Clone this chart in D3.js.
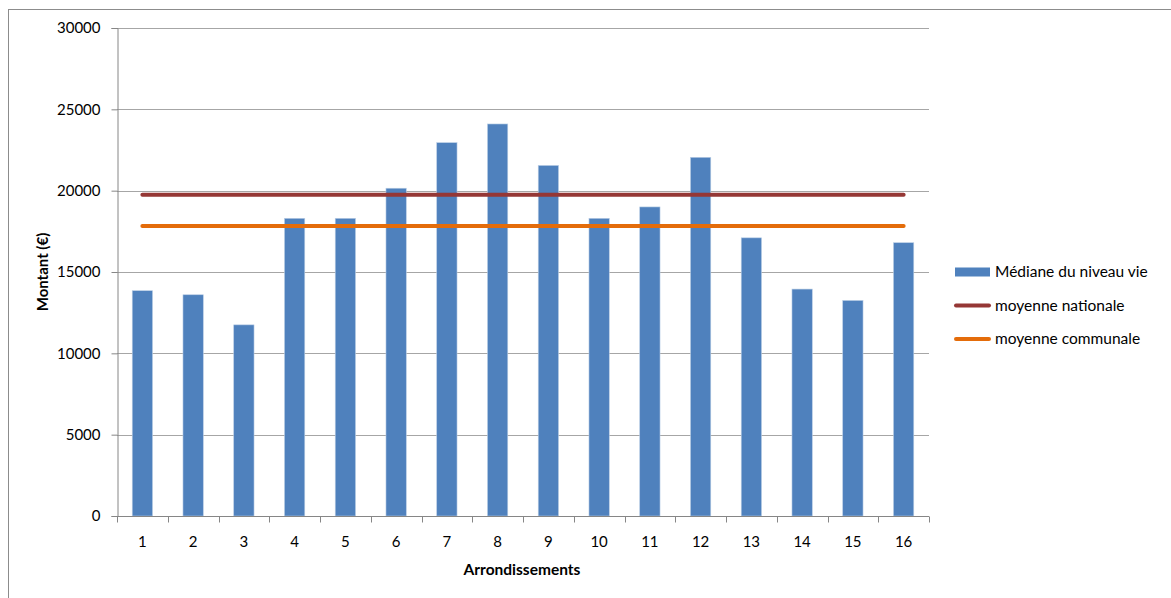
<!DOCTYPE html>
<html>
<head>
<meta charset="utf-8">
<script src="https://cdn.jsdelivr.net/npm/d3@7"></script>
<style>
  body { margin: 0; background: #fff; }
  svg { display: block; font-family: Lato, "Open Sans", sans-serif; }
</style>
</head>
<body>
<div id="graph"></div>
<script>
// arrondissements and values
var categories = ["1","2","3","4","5","6","7","8","9","10","11","12","13","14","15","16"];
var medianValues = [13850, 13600, 11750, 18300, 18300, 20150, 22950, 24100, 21550, 18300, 19000, 22050, 17100, 13950, 13250, 16800];
var nationalAvg = 19750;
var communalAvg = 17830;
var yTicks = [0, 5000, 10000, 15000, 20000, 25000, 30000];
var legendLabels = ["Médiane du niveau vie", "moyenne nationale", "moyenne communale"];

var svgWidth = 1171;
var svgHeight = 598;

var chartMargin = { top: 28, left: 117 };
var chartWidth = 929 - 117;
var chartHeight = 516 - 28;

var svg = d3.select("#graph")
  .append("svg")
  .attr("width", svgWidth)
  .attr("height", svgHeight);

// outer frame (right and bottom go past the picture)
svg.append("rect")
  .attr("x", 8.5)
  .attr("y", 9.5)
  .attr("width", svgWidth)
  .attr("height", svgHeight)
  .attr("fill", "none")
  .attr("stroke", "#8c8c8c");

var chartGroup = svg.append("g")
  .attr("transform", `translate(${chartMargin.left}, ${chartMargin.top})`);

var xCat = d3.scaleBand()
  .domain(categories)
  .range([0, chartWidth]);

var yScale = d3.scaleLinear()
  .domain([0, 30000])
  .range([chartHeight, 0]);

// gridlines
chartGroup.selectAll(".grid")
  .data(yTicks.slice(1))
  .enter()
  .append("line")
  .attr("x1", 0)
  .attr("x2", chartWidth)
  .attr("y1", d => Math.round(yScale(d)) + 0.5)
  .attr("y2", d => Math.round(yScale(d)) + 0.5)
  .attr("stroke", "#a6a6a6")
  .attr("stroke-width", 1.2);

// bars
chartGroup.selectAll(".bar")
  .data(medianValues)
  .enter()
  .append("rect")
  .attr("x", (d, i) => xCat(categories[i]) + xCat.bandwidth() * 0.3)
  .attr("y", d => yScale(d))
  .attr("width", xCat.bandwidth() * 0.4)
  .attr("height", d => chartHeight - yScale(d))
  .attr("fill", "#4f81bd")
  .attr("stroke", "#b9cde5")
  .attr("stroke-width", 0.6);

// average lines, from centre of first to centre of last category
var lineData = [
  { value: nationalAvg, color: "#953735" },
  { value: communalAvg, color: "#e46c0a" }
];
var first = categories[0], last = categories[categories.length - 1];
lineData.forEach(function(l) {
  chartGroup.append("path")
    .attr("d", d3.line()([
      [xCat(first) + xCat.bandwidth() / 2, yScale(l.value)],
      [xCat(last) + xCat.bandwidth() / 2, yScale(l.value)]
    ]))
    .attr("stroke", l.color)
    .attr("stroke-width", 4)
    .attr("stroke-linecap", "round")
    .attr("fill", "none");
});

// y axis
var yAxis = d3.axisLeft(yScale).tickValues(yTicks).tickSize(6).tickPadding(11).tickFormat(d3.format("d"));
var yG = chartGroup.append("g")
  .attr("transform", "translate(0.5,0)")
  .call(yAxis);
yG.select(".domain").attr("stroke", "#868686");
yG.selectAll(".tick line").attr("stroke", "#868686");
yG.selectAll(".tick text").attr("fill", "#000").style("font-size", "15px").style("font-family", "Lato, sans-serif");

// x axis: ticks between categories
var xG = chartGroup.append("g")
  .attr("transform", `translate(0, ${chartHeight + 0.5})`);
xG.append("line")
  .attr("x1", 0).attr("x2", chartWidth)
  .attr("stroke", "#868686");
var bounds = categories.map(c => xCat(c)).concat([chartWidth]);
xG.selectAll(".xtick")
  .data(bounds)
  .enter()
  .append("line")
  .attr("x1", d => Math.round(d) + 0.5)
  .attr("x2", d => Math.round(d) + 0.5)
  .attr("y1", 0)
  .attr("y2", 6)
  .attr("stroke", "#868686");
xG.selectAll(".xlabel")
  .data(categories)
  .enter()
  .append("text")
  .attr("x", d => xCat(d) + xCat.bandwidth() / 2)
  .attr("y", 25)
  .attr("dy", "0.35em")
  .style("text-anchor", "middle")
  .style("font-size", "15px")
  .text(d => d);

// axis titles
svg.append("text")
  .attr("transform", "translate(48, 272) rotate(-90)")
  .style("text-anchor", "middle")
  .style("font-size", "15px")
  .style("font-weight", "bold")
  .text("Montant (€)");

svg.append("text")
  .attr("x", 522)
  .attr("y", 575)
  .style("text-anchor", "middle")
  .style("font-size", "15.5px")
  .style("font-weight", "bold")
  .text("Arrondissements");

// legend
var legend = svg.append("g").attr("transform", "translate(955, 272)");
var legendColors = ["#4f81bd", "#953735", "#e46c0a"];
legendLabels.forEach(function(label, i) {
  var y = i * 33.5;
  if (i == 0) {
    legend.append("rect")
      .attr("x", 0).attr("y", y - 4.5)
      .attr("width", 35).attr("height", 9)
      .attr("fill", legendColors[i]);
  } else {
    legend.append("line")
      .attr("x1", 1).attr("x2", 34)
      .attr("y1", y).attr("y2", y)
      .attr("stroke", legendColors[i])
      .attr("stroke-width", 4)
      .attr("stroke-linecap", "round");
  }
  legend.append("text")
    .attr("x", 40)
    .attr("y", y)
    .attr("dy", "0.35em")
    .style("font-size", "15.5px")
    .text(label);
});
</script>
</body>
</html>
